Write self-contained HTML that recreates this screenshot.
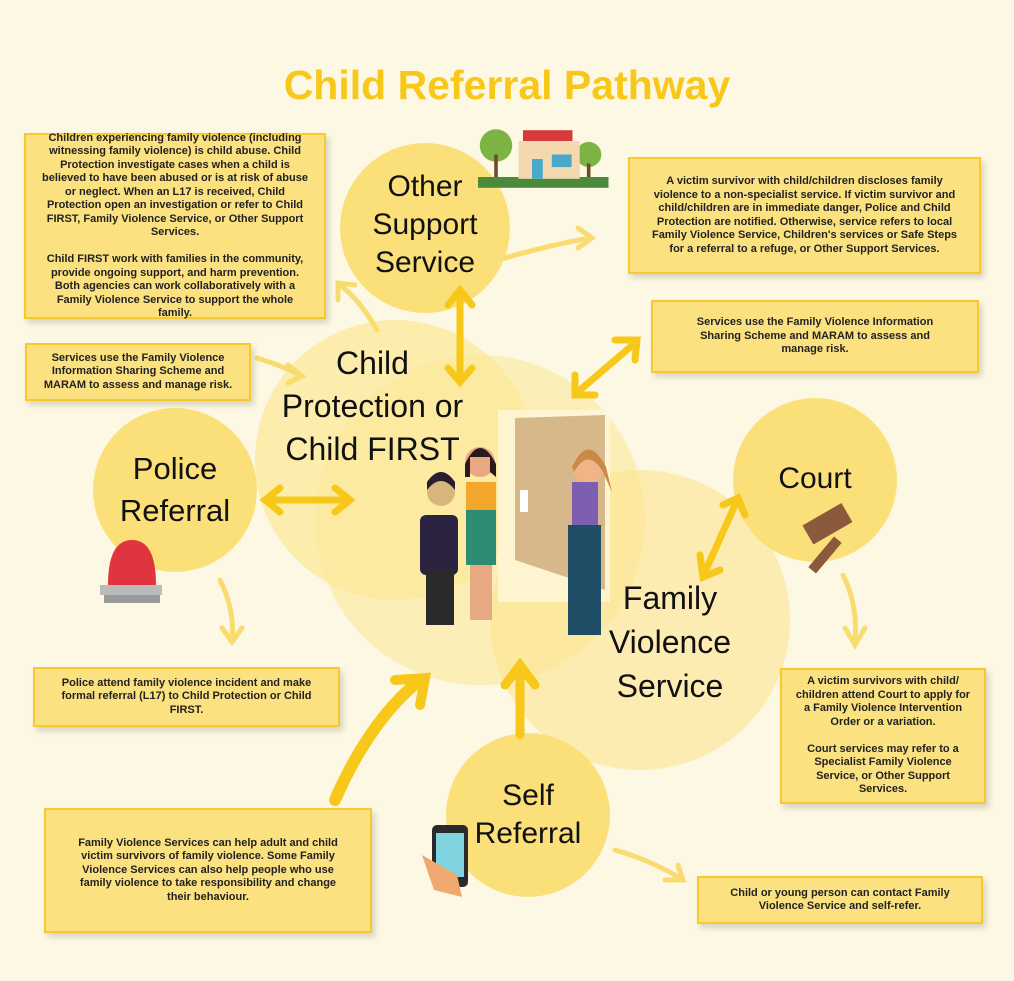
<!DOCTYPE html>
<html><head><meta charset="utf-8"><style>
body{margin:0;width:1014px;height:981px;background:#fdf8e3;font-family:"Liberation Sans",sans-serif;position:relative;overflow:hidden}
.b{position:absolute;background:#fbe17f;border:2px solid #f6c92c;box-shadow:3px 4px 6px rgba(0,0,0,.15);font-size:11px;font-weight:bold;line-height:13.5px;text-align:center;color:#222;box-sizing:border-box;display:flex;flex-direction:column;justify-content:center}
.t{position:absolute;font-size:30px;text-align:center;color:#111;line-height:38px}
</style></head><body>
<svg width="1014" height="981" style="position:absolute;left:0;top:0">
<circle cx="395" cy="460" r="140" fill="#fcea9e" opacity=".8"/>
<circle cx="480" cy="520" r="165" fill="#fbe79a" opacity=".6"/>
<circle cx="640" cy="620" r="150" fill="#fbe48f" opacity=".6"/>
<circle cx="425" cy="228" r="85" fill="#fbe07a"/>
<circle cx="175" cy="490" r="82" fill="#fbe07a"/>
<circle cx="815" cy="480" r="82" fill="#fbe07a"/>
<circle cx="528" cy="815" r="82" fill="#fbe07a"/>
<g stroke="#f7c81a" stroke-width="7" fill="none" stroke-linecap="round">
<line x1="460" y1="300" x2="460" y2="375"/><path d="M448 305 L460 290 L472 305 M448 368 L460 382 L472 368"/>
<line x1="270" y1="500" x2="345" y2="500"/><path d="M280 488 L265 500 L280 512 M335 488 L350 500 L335 512"/>
<line x1="580" y1="390" x2="635" y2="343"/><path d="M575 375 L575 395 L595 395 M615 340 L637 340 L635 360"/>
<line x1="705" y1="572" x2="735" y2="505"/><path d="M700 555 L703 577 L720 570 M723 505 L738 498 L745 515"/>
<path d="M335 800 Q370 720 420 680" stroke-width="12"/><path d="M395 680 L425 678 L420 705" stroke-width="10"/>
<path d="M520 735 L520 665" stroke-width="9"/><path d="M505 685 L520 665 L535 685" stroke-width="9"/>
</g>
<g stroke="#f9dc70" stroke-width="5" fill="none" stroke-linecap="round">
<path d="M377 330 Q360 300 340 285"/><path d="M338 300 L338 283 L355 285"/>
<path d="M505 258 Q550 245 590 238"/><path d="M578 228 L592 238 L578 248"/>
<path d="M257 358 Q280 365 300 375"/><path d="M288 365 L302 376 L288 383"/>
<path d="M220 580 Q235 610 232 640"/><path d="M222 628 L232 642 L242 628"/>
<path d="M843 575 Q858 605 855 640"/><path d="M845 628 L855 645 L865 628"/>
<path d="M615 850 Q650 860 680 878"/><path d="M665 880 L683 880 L678 865"/>
</g>
<rect x="498" y="410" width="112" height="192" fill="#fff6dc" opacity=".8"/>
<polygon points="515,418 605,415 605,590 515,560" fill="#d6b88b"/>
<rect x="520" y="490" width="8" height="22" fill="#fff"/>
<g><circle cx="441" cy="492" r="14" fill="#d9b57e"/><path d="M427 490 Q441 472 455 490 L455 482 Q441 462 427 482Z" fill="#2b1d2e"/><rect x="420" y="515" width="38" height="60" rx="6" fill="#2b2340"/><rect x="426" y="570" width="28" height="55" fill="#2a2a2a"/>
<circle cx="480" cy="462" r="15" fill="#e8a882"/><path d="M465 464 Q480 432 496 464 L496 477 L490 472 L490 457 L470 457 L470 477 L465 477Z" fill="#2a1a20"/><rect x="466" y="482" width="30" height="30" fill="#f2a62a"/><rect x="466" y="510" width="30" height="55" fill="#2e8b74"/><rect x="470" y="565" width="22" height="55" fill="#e8a882"/>
<circle cx="588" cy="467" r="16" fill="#f0b587"/><path d="M572 467 Q588 432 606 467 L612 492 L603 472 Q588 447 574 472Z" fill="#c98a47"/><rect x="572" y="482" width="26" height="45" fill="#7e5eb3"/><rect x="568" y="525" width="33" height="110" fill="#1f4d66"/>
</g>
<g transform="translate(478,123) scale(0.9)"><rect x="0" y="60" width="145" height="12" fill="#4a8a3a"/><circle cx="20" cy="25" r="18" fill="#7cb342"/><rect x="18" y="35" width="4" height="25" fill="#6d4c2e"/><circle cx="123" cy="35" r="14" fill="#7cb342"/><rect x="121" y="45" width="4" height="15" fill="#6d4c2e"/><rect x="50" y="8" width="55" height="12" fill="#d63b3b"/><rect x="45" y="20" width="68" height="42" fill="#f4d9b0"/><rect x="60" y="40" width="12" height="22" fill="#49a9c9"/><rect x="82" y="35" width="22" height="14" fill="#49a9c9"/></g>
<g transform="translate(100,535)"><path d="M8 50 Q8 5 32 5 Q56 5 56 50Z" fill="#e0353f"/><rect x="0" y="50" width="62" height="10" fill="#bbb"/><rect x="4" y="60" width="56" height="8" fill="#999"/></g>
<g transform="translate(805,495)"><rect x="0" y="18" width="45" height="22" fill="#8b5a3c" transform="rotate(-30 22 29)"/><rect x="15" y="40" width="10" height="40" fill="#8b5a3c" transform="rotate(40 20 60)"/></g>
<g transform="translate(422,825)"><rect x="10" y="0" width="36" height="62" rx="5" fill="#2a2a2a"/><rect x="14" y="8" width="28" height="44" fill="#7fd4e0"/><path d="M0 30 L12 65 L40 72 L35 50 Z" fill="#f0a770"/></g>
</svg>
<div style="position:absolute;left:0;width:1014px;top:62px;text-align:center;font-size:41px;font-weight:bold;color:#f7c81a">Child Referral Pathway</div>
<div class="t" style="left:335px;top:168px;width:180px">Other<br>Support<br>Service</div>
<div class="t" style="left:250px;top:342px;width:245px;line-height:43px;font-size:32px">Child<br>Protection or<br>Child FIRST</div>
<div class="t" style="left:90px;top:448px;width:170px;line-height:42px;font-size:31px">Police<br>Referral</div>
<div class="t" style="left:740px;top:460px;width:150px">Court</div>
<div class="t" style="left:580px;top:576px;width:180px;line-height:44px;font-size:32px">Family<br>Violence<br>Service</div>
<div class="t" style="left:450px;top:777px;width:156px">Self<br>Referral</div>
<div class="b" style="left:24px;top:133px;width:302px;height:186px;padding:0 16px">Children experiencing family violence (including witnessing family violence) is child abuse. Child Protection investigate cases when a child is believed to have been abused or is at risk of abuse or neglect. When an L17 is received, Child Protection open an investigation or refer to Child FIRST, Family Violence Service, or Other Support Services.<br><br>Child FIRST work with families in the community, provide ongoing support, and harm prevention. Both agencies can work collaboratively with a Family Violence Service to support the whole family.</div>
<div class="b" style="left:25px;top:343px;width:226px;height:58px;padding:0 8px">Services use the Family Violence Information Sharing Scheme and MARAM to assess and manage risk.</div>
<div class="b" style="left:628px;top:157px;width:353px;height:117px;padding:0 14px">A victim survivor with child/children discloses family violence to a non-specialist service. If victim survivor and child/children are in immediate danger, Police and Child Protection are notified. Otherwise, service refers to local Family Violence Service, Children's services or Safe Steps for a referral to a refuge, or Other Support Services.</div>
<div class="b" style="left:651px;top:300px;width:328px;height:73px;padding:0 28px">Services use the Family Violence Information Sharing Scheme and MARAM to assess and manage risk.</div>
<div class="b" style="left:33px;top:667px;width:307px;height:60px;padding:0 18px">Police attend family violence incident and make formal referral (L17) to Child Protection or Child FIRST.</div>
<div class="b" style="left:780px;top:668px;width:206px;height:136px;padding:0 12px">A victim survivors with child/ children attend Court to apply for a Family Violence Intervention Order or a variation.<br><br>Court services may refer to a Specialist Family Violence Service, or Other Support Services.</div>
<div class="b" style="left:44px;top:808px;width:328px;height:125px;padding:0 28px">Family Violence Services can help adult and child victim survivors of family violence. Some Family Violence Services can also help people who use family violence to take responsibility and change their behaviour.</div>
<div class="b" style="left:697px;top:876px;width:286px;height:48px;padding:0 18px">Child or young person can contact Family Violence Service and self-refer.</div>
</body></html>
